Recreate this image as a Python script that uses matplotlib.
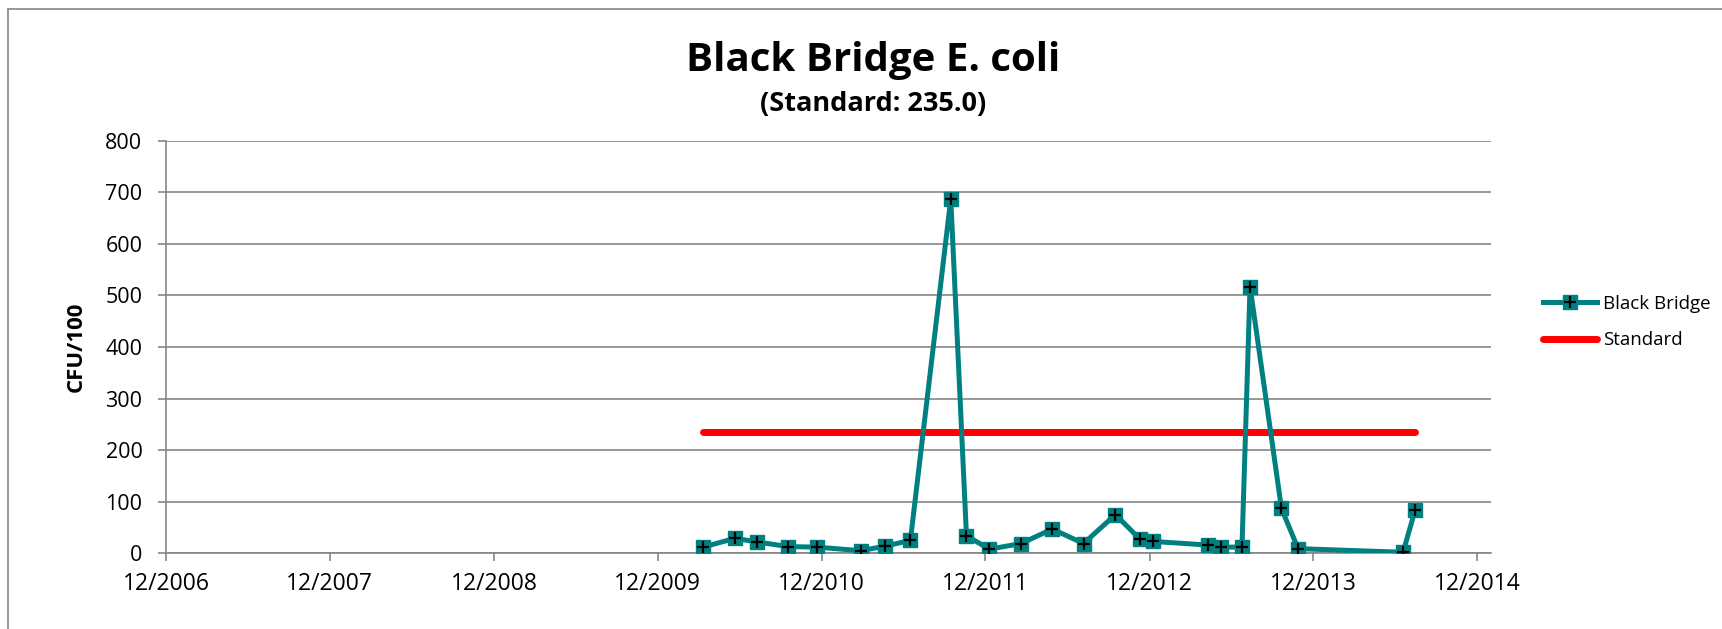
import matplotlib
matplotlib.use("Agg")
import matplotlib.pyplot as plt
import matplotlib.dates as mdates
from matplotlib.lines import Line2D
import pandas as pd

plt.rcParams['font.family'] = ['Open Sans', 'DejaVu Sans']

# sample dates and E. coli counts (CFU/100)
sample_dates = ['2010-03-12', '2010-05-22', '2010-07-10', '2010-09-18', '2010-11-20',
                '2011-02-27', '2011-04-22', '2011-06-17', '2011-09-15', '2011-10-20',
                '2011-12-10', '2012-02-19', '2012-04-28', '2012-07-07', '2012-09-16',
                '2012-11-10', '2012-12-09', '2013-04-10', '2013-05-10', '2013-06-25',
                '2013-07-13', '2013-09-21', '2013-10-28', '2014-06-19', '2014-07-16']
ecoli = [12, 29, 22, 13, 12,
         5, 14, 25, 687, 34,
         8, 19, 47, 19, 75,
         27, 23, 16, 12, 12,
         517, 87, 9, 2, 84]
standard = 235.0

tick_dates = ['2006-12-01', '2007-12-01', '2008-12-01', '2009-12-01', '2010-12-01',
              '2011-12-01', '2012-12-01', '2013-12-01', '2014-12-01']
x_min, x_max = '2006-12-01', '2015-01-01'
y_ticks = [0, 100, 200, 300, 400, 500, 600, 700, 800]

teal = '#008080'
grid_gray = '#868686'

dates = pd.to_datetime(sample_dates)

fig = plt.figure(figsize=(17.22, 6.29), dpi=100)
ax = fig.add_axes([166 / 1722, 75.7 / 629, 1325 / 1722, 412.6 / 629])

line, = ax.plot(dates, ecoli, color=teal, lw=3.6, marker='s', ms=10,
                mfc=teal, mec=teal, zorder=3)
plus, = ax.plot(dates, ecoli, ls='none', marker='+', ms=8, mew=1.6,
                color='black', zorder=4)
std_line, = ax.plot([dates[0], dates[-1]], [standard, standard], color='#ff0000',
                    lw=5, solid_capstyle='round', zorder=2)

ax.set_xlim(pd.Timestamp(x_min), pd.Timestamp(x_max))
ax.set_ylim(0, 800)
ax.set_yticks(y_ticks)
ax.set_xticks(pd.to_datetime(tick_dates))
ax.xaxis.set_major_formatter(mdates.DateFormatter('%m/%Y'))

ax.yaxis.grid(True, color=grid_gray, lw=1.2)
ax.set_axisbelow(True)
for s in ['top', 'right']:
    ax.spines[s].set_visible(False)
for s in ['left', 'bottom']:
    ax.spines[s].set_color(grid_gray)
    ax.spines[s].set_linewidth(1.2)
ax.tick_params(axis='y', length=6, width=1.2, color=grid_gray, pad=11, labelsize=15.5)
ax.tick_params(axis='x', length=5.5, width=1.2, color=grid_gray, pad=8, labelsize=16.5)

ax.set_ylabel('CFU/100', fontsize=16, fontweight='bold')
ax.yaxis.set_label_coords(-0.0596, 0.5)

fig.text(873 / 1722, 1 - 61 / 629, 'Black Bridge E. coli', ha='center', va='center',
         fontsize=29, fontweight='bold')
fig.text(873 / 1722, 1 - 104 / 629, '(Standard: 235.0)', ha='center', va='center',
         fontsize=19.5, fontweight='bold')

fig.legend([(line, plus), std_line], ['Black Bridge', 'Standard'],
           loc='center left', bbox_to_anchor=(1543 / 1722, 1 - 322 / 629),
           frameon=False, fontsize=13.5, handlelength=2.9, handletextpad=0.3,
           labelspacing=1.0, borderpad=0, borderaxespad=0, numpoints=1)

# chart area border (only top and left edges are visible in the crop)
fig.add_artist(Line2D([8 / 1722, 8 / 1722], [0, 1 - 9 / 629], transform=fig.transFigure,
                      color=grid_gray, lw=1.2))
fig.add_artist(Line2D([8 / 1722, 1], [1 - 9 / 629, 1 - 9 / 629], transform=fig.transFigure,
                      color=grid_gray, lw=1.2))

fig.savefig('out.png', dpi=100)
